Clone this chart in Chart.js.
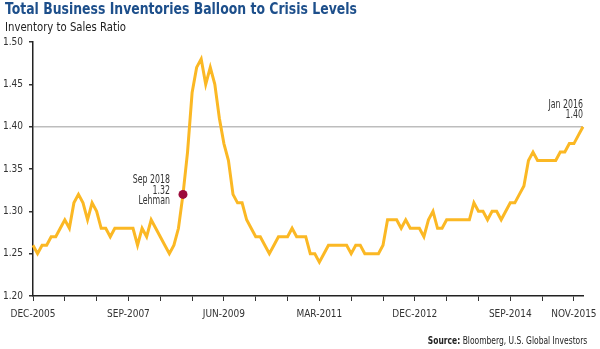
<!DOCTYPE html>
<html>
<head>
<meta charset="utf-8">
<script src="https://cdn.jsdelivr.net/npm/chart.js"></script>
<style>
  body { margin: 0; background: #fff; }
  #wrap { position: relative; width: 600px; height: 349px; overflow: hidden; font-family: "Liberation Sans Narrow", "Arial Narrow", "DejaVu Sans Condensed", sans-serif; }
  #chart { position: absolute; left: 0; top: 0; }
  .title { position: absolute; left: 5px; top: 0px; font-size: 15.5px; font-weight: bold; color: #1d4f8b; white-space: nowrap; transform: scaleX(0.893); transform-origin: left top; }
  .sub { position: absolute; left: 5px; top: 19px; font-size: 12.5px; color: #222; white-space: nowrap; transform: scaleX(0.9); transform-origin: left top; }
  .source { position: absolute; right: 13px; top: 334px; font-size: 10.5px; color: #222; white-space: nowrap; transform: scaleX(0.8); transform-origin: right top; }
</style>
</head>
<body>
<div id="wrap">
  <canvas id="chart" width="600" height="349"></canvas>
  <div class="title">Total Business Inventories Balloon to Crisis Levels</div>
  <div class="sub">Inventory to Sales Ratio</div>
  <div class="source"><b>Source:</b> Bloomberg, U.S. Global Investors</div>
</div>
<script>
// monthly, Dec 2005 .. Jan 2016
const monthNames = ['JAN', 'FEB', 'MAR', 'APR', 'MAY', 'JUN', 'JUL', 'AUG', 'SEP', 'OCT', 'NOV', 'DEC'];
const startMonth = 11, startYear = 2005, monthCount = 122;

const ratio = [
    1.26, 1.25, 1.26, 1.26, 1.27, 1.27, 1.28, 1.29, 1.28, 1.31, 1.32, 1.31,
    1.29, 1.31, 1.30, 1.28, 1.28, 1.27, 1.28, 1.28, 1.28, 1.28, 1.28, 1.26,
    1.28, 1.27, 1.29, 1.28, 1.27, 1.26, 1.25, 1.26, 1.28, 1.32, 1.37, 1.44,
    1.47, 1.48, 1.45, 1.47, 1.45, 1.41, 1.38, 1.36, 1.32, 1.31, 1.31, 1.29,
    1.28, 1.27, 1.27, 1.26, 1.25, 1.26, 1.27, 1.27, 1.27, 1.28, 1.27, 1.27,
    1.27, 1.25, 1.25, 1.24, 1.25, 1.26, 1.26, 1.26, 1.26, 1.26, 1.25, 1.26,
    1.26, 1.25, 1.25, 1.25, 1.25, 1.26, 1.29, 1.29, 1.29, 1.28, 1.29, 1.28,
    1.28, 1.28, 1.27, 1.29, 1.30, 1.28, 1.28, 1.29, 1.29, 1.29, 1.29, 1.29,
    1.29, 1.31, 1.30, 1.30, 1.29, 1.30, 1.30, 1.29, 1.30, 1.31, 1.31, 1.32,
    1.33, 1.36, 1.37, 1.36, 1.36, 1.36, 1.36, 1.36, 1.37, 1.37, 1.38, 1.38,
    1.39, 1.40
];

const tickLabels = ['DEC-2005', 'SEP-2007', 'JUN-2009', 'MAR-2011', 'DEC-2012', 'SEP-2014', 'NOV-2015'];
const tickEvery = 7;
const refLine = 1.40;

const callouts = [
    { index: 33, lines: ['Sep 2018', '1.32', 'Lehman'], dx: -13, dy: -11 },
    { index: 121, lines: ['Jan 2016', '1.40'], dx: 0, dy: -19 }
];
const lehmanIndex = 33;

const labels = [];
for (let i = 0; i < monthCount; i++) {
    const m = (startMonth + i) % 12;
    const y = startYear + Math.floor((startMonth + i) / 12);
    labels.push(monthNames[m] + '-' + y);
}

const fontFamily = '"Liberation Sans Narrow", "Arial Narrow", "DejaVu Sans Condensed", sans-serif';
const tickFont = { family: fontFamily, size: 10 };

// text next to the marked points, squeezed a bit like the original condensed face
const calloutPlugin = {
    id: 'callouts',
    afterDatasetsDraw(chart) {
        const ctx = chart.ctx;
        const xs = chart.scales.x, ys = chart.scales.y;
        ctx.save();
        ctx.fillStyle = '#333';
        ctx.font = '11.5px ' + fontFamily;
        ctx.textAlign = 'right';
        ctx.textBaseline = 'alphabetic';
        callouts.forEach(c => {
            const x = xs.getPixelForValue(c.index) + c.dx;
            const y = ys.getPixelForValue(ratio[c.index]) + c.dy;
            c.lines.forEach((t, k) => {
                ctx.save();
                ctx.translate(x, y + k * 10.5);
                ctx.scale(0.76, 1);
                ctx.fillText(t, 0, 0);
                ctx.restore();
            });
        });
        ctx.restore();
    }
};

new Chart(document.getElementById('chart'), {
    type: 'line',
    data: {
        labels: labels,
        datasets: [{
            data: ratio,
            borderColor: '#fbb824',
            borderWidth: 3,
            tension: 0,
            pointRadius: ctx => ctx.dataIndex === lehmanIndex ? 4.5 : 0,
            pointBackgroundColor: '#9c0b3b',
            pointBorderWidth: 0,
            pointHoverRadius: 0
        }]
    },
    options: {
        responsive: false,
        animation: false,
        layout: { padding: { top: 42, right: 17, bottom: 23, left: 0 } },
        plugins: { legend: { display: false }, tooltip: { enabled: false } },
        scales: {
            x: {
                offset: false,
                afterFit: s => { s.height = 30; },
                border: { display: true, color: '#222', width: 1.5 },
                grid: {
                    drawOnChartArea: false,
                    tickLength: 5,
                    tickColor: ctx => ctx.index % tickEvery === 0 ? '#333' : 'rgba(0,0,0,0)'
                },
                ticks: {
                    autoSkip: false,
                    maxRotation: 0,
                    minRotation: 0,
                    padding: 7,
                    color: '#333',
                    font: tickFont,
                    callback: (v, i) => tickLabels.includes(labels[i]) ? labels[i] : ''
                }
            },
            y: {
                min: 1.2,
                max: 1.5,
                afterFit: s => { s.width = 33; },
                border: { display: true, color: '#222', width: 1.5 },
                grid: {
                    lineWidth: 1.5,
                    tickLength: 4,
                    tickColor: '#333',
                    color: ctx => ctx.tick && Math.abs(ctx.tick.value - refLine) < 1e-6 ? '#bdbdbd' : 'rgba(0,0,0,0)'
                },
                ticks: {
                    stepSize: 0.05,
                    padding: 6,
                    color: '#333',
                    font: tickFont,
                    callback: v => v.toFixed(2)
                }
            }
        }
    },
    plugins: [calloutPlugin]
});
</script>
</body>
</html>
